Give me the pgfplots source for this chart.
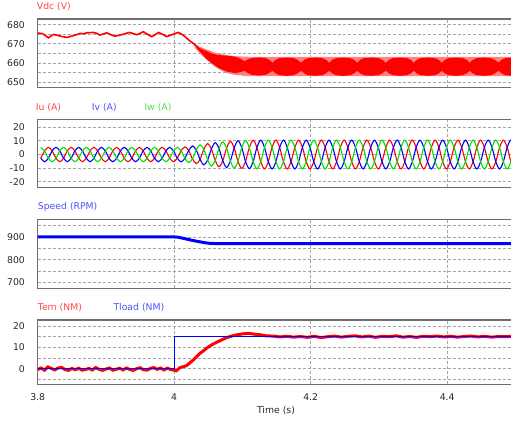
\documentclass[border=0pt]{standalone}
\usepackage{fontspec}
\setmainfont{DejaVu Sans}
\usepackage{pgfplots}
\usepackage{pgfplotstable}
\pgfplotsset{compat=1.18}

\definecolor{gridc}{RGB}{165,165,165}
\definecolor{framec}{RGB}{110,110,110}
\definecolor{pr}{RGB}{255,0,0}
\definecolor{pb}{RGB}{0,0,255}
\definecolor{pg}{RGB}{0,225,0}
\definecolor{pinkc}{RGB}{255,130,130}
\definecolor{lr}{RGB}{255,70,70}
\definecolor{lb}{RGB}{80,80,255}
\definecolor{lg}{RGB}{80,220,80}
\definecolor{tk}{RGB}{40,40,40}

\pgfplotsset{panel/.style={scale only axis, width=477.75bp, xmin=3.8, xmax=4.5,
  xtick={3.8,4,4.2,4.4}, xticklabels={}, major tick length=0pt, minor tick length=0pt,
  grid=both, major grid style={draw=gridc, line width=0.9bp, dash pattern=on 3bp off 2bp},
  minor grid style={draw=gridc, line width=0.9bp, dash pattern=on 3bp off 2bp},
  axis line style={draw=framec, line width=1.3bp}, tick label style={text=tk},
  yticklabel style={xshift=-9.5bp}, /pgf/number format/assume math mode=true,
  anchor=north west}}

\pgfplotstableread{
t v
3.800 675.6
3.806 675.5
3.811 674.5
3.8156 673.2
3.820 674.3
3.823 674.9
3.828 674.6
3.834 674.0
3.8425 673.4
3.848 673.9
3.853 674.4
3.858 675.0
3.862 675.5
3.867 675.3
3.872 675.8
3.8815 676.0
3.886 675.6
3.891 674.6
3.896 675.2
3.901 675.8
3.906 675.0
3.9133 674.0
3.918 674.4
3.925 675.0
3.930 675.6
3.935 676.0
3.940 675.4
3.945 674.8
3.950 675.5
3.9547 676.4
3.960 675.2
3.967 673.8
3.972 674.8
3.977 676.0
3.983 675.0
3.989 673.8
3.995 674.6
4.000 675.3
4.006 676.0
4.010 675.3
4.016 673.8
4.022 671.8
4.028 670.3
4.035 668.2
}\vdcline

\pgfplotstableread{
t v
4.030 669.5
4.045 667.5
4.060 665.5
4.075 664.3
4.090 663.6
4.110 663.3
4.520 663.3
4.520 653.2
4.110 653.2
4.090 653.8
4.075 655.0
4.060 658.0
4.045 662.5
4.030 668.0
}\vdcpink

\pgfplotstableread{
t v
4.033 668.8
4.040 667.4
4.047 666.3
4.055 665.0
4.065 664.2
4.077 663.9
4.090 663.3
4.097 662.3
4.103 661.0
4.108 662.0
4.113 662.6
4.124 663.0
4.134 662.6
4.139 661.8
4.144 660.2
4.149 661.8
4.1543 662.6
4.1647 662.9
4.175 662.6
4.1803 661.8
4.186 660.2
4.191 661.8
4.1963 662.6
4.2067 662.9
4.217 662.6
4.2223 661.8
4.227 660.2
4.232 661.8
4.2373 662.6
4.2477 662.9
4.258 662.6
4.2633 661.8
4.268 660.2
4.273 661.8
4.2783 662.6
4.2887 662.9
4.299 662.6
4.3043 661.8
4.310 660.2
4.315 661.8
4.3203 662.6
4.3307 662.9
4.341 662.6
4.3463 661.8
4.351 660.2
4.356 661.8
4.3613 662.6
4.3717 662.9
4.382 662.6
4.3873 661.8
4.392 660.2
4.397 661.8
4.4023 662.6
4.4127 662.9
4.423 662.6
4.4283 661.8
4.433 660.2
4.438 661.8
4.4433 662.6
4.4537 662.9
4.464 662.6
4.4693 661.8
4.475 660.2
4.480 661.8
4.4853 662.6
4.4957 662.9
4.506 662.6
4.5113 661.8
4.516 660.2
4.516 656.0
4.5113 654.6
4.506 653.7
4.4957 653.4
4.4853 653.7
4.480 654.6
4.475 656.0
4.4693 654.6
4.464 653.7
4.4537 653.4
4.4433 653.7
4.438 654.6
4.433 656.0
4.4283 654.6
4.423 653.7
4.4127 653.4
4.4023 653.7
4.397 654.6
4.392 656.0
4.3873 654.6
4.382 653.7
4.3717 653.4
4.3613 653.7
4.356 654.6
4.351 656.0
4.3463 654.6
4.341 653.7
4.3307 653.4
4.3203 653.7
4.315 654.6
4.310 656.0
4.3043 654.6
4.299 653.7
4.2887 653.4
4.2783 653.7
4.273 654.6
4.268 656.0
4.2633 654.6
4.258 653.7
4.2477 653.4
4.2373 653.7
4.232 654.6
4.227 656.0
4.2223 654.6
4.217 653.7
4.2067 653.4
4.1963 653.7
4.191 654.6
4.186 656.0
4.1803 654.6
4.175 653.7
4.1647 653.4
4.1543 653.7
4.149 654.6
4.144 656.0
4.139 654.8
4.134 654.0
4.124 653.5
4.113 654.0
4.108 654.8
4.103 656.0
4.097 655.3
4.090 654.8
4.077 655.6
4.065 657.5
4.055 660.0
4.047 662.3
4.040 665.0
4.033 667.8
}\vdcband

\pgfplotstableread{
t iu iv iw
3.8045 -2.65 -2.65 5.3
3.8101 2.65 -5.3 2.65
3.8157 5.3 -2.65 -2.65
3.8212 2.65 2.65 -5.3
3.8268 -2.65 5.3 -2.65
3.8323 -5.3 2.65 2.65
3.8379 -2.65 -2.65 5.3
3.8434 2.65 -5.3 2.65
3.8490 5.3 -2.65 -2.65
3.8545 2.65 2.65 -5.3
3.8601 -2.65 5.3 -2.65
3.8656 -5.3 2.65 2.65
3.8712 -2.65 -2.65 5.3
3.8768 2.65 -5.3 2.65
3.8823 5.3 -2.65 -2.65
3.8879 2.65 2.65 -5.3
3.8934 -2.65 5.3 -2.65
3.8990 -5.3 2.65 2.65
3.9045 -2.65 -2.65 5.3
3.9101 2.65 -5.3 2.65
3.9157 5.3 -2.65 -2.65
3.9212 2.65 2.65 -5.3
3.9268 -2.65 5.3 -2.65
3.9323 -5.3 2.65 2.65
3.9379 -2.65 -2.65 5.3
3.9434 2.65 -5.3 2.65
3.9490 5.3 -2.65 -2.65
3.9545 2.65 2.65 -5.3
3.9601 -2.65 5.3 -2.65
3.9656 -5.3 2.65 2.65
3.9712 -2.65 -2.65 5.3
3.9768 2.65 -5.3 2.65
3.9823 5.3 -2.65 -2.65
3.9879 2.65 2.65 -5.3
3.9934 -2.65 5.3 -2.65
3.9990 -5.3 2.65 2.65
4.0045 -2.65 -2.65 5.3
4.0101 2.7 -5.4 2.7
4.0157 5.6 -2.8 -2.8
4.0212 2.95 2.95 -5.9
4.0268 -3.15 6.3 -3.15
4.0323 -6.7 3.35 3.35
4.0379 -3.55 -3.55 7.1
4.0434 3.8 -7.6 3.8
4.0490 8.0 -4.0 -4.0
4.0545 4.2 4.2 -8.4
4.0601 -4.35 8.7 -4.35
4.0656 -9.0 4.5 4.5
4.0712 -4.65 -4.65 9.3
4.0768 4.75 -9.5 4.75
4.0823 9.7 -4.85 -4.85
4.0879 4.95 4.95 -9.9
4.0934 -5.05 10.1 -5.05
4.0990 -10.2 5.1 5.1
4.1045 -5.15 -5.15 10.3
4.1101 5.2 -10.4 5.2
4.1157 10.5 -5.25 -5.25
4.1212 5.25 5.25 -10.5
4.1268 -5.3 10.6 -5.3
4.1323 -10.6 5.3 5.3
4.1379 -5.3 -5.3 10.6
4.1434 5.3 -10.6 5.3
4.1490 10.6 -5.3 -5.3
4.1545 5.3 5.3 -10.6
4.1601 -5.3 10.6 -5.3
4.1656 -10.6 5.3 5.3
4.1712 -5.3 -5.3 10.6
4.1768 5.3 -10.6 5.3
4.1823 10.6 -5.3 -5.3
4.1879 5.3 5.3 -10.6
4.1934 -5.3 10.6 -5.3
4.1990 -10.6 5.3 5.3
4.2045 -5.3 -5.3 10.6
4.2101 5.3 -10.6 5.3
4.2157 10.6 -5.3 -5.3
4.2212 5.3 5.3 -10.6
4.2268 -5.3 10.6 -5.3
4.2323 -10.6 5.3 5.3
4.2379 -5.3 -5.3 10.6
4.2434 5.3 -10.6 5.3
4.2490 10.6 -5.3 -5.3
4.2545 5.3 5.3 -10.6
4.2601 -5.3 10.6 -5.3
4.2656 -10.6 5.3 5.3
4.2712 -5.3 -5.3 10.6
4.2768 5.3 -10.6 5.3
4.2823 10.6 -5.3 -5.3
4.2879 5.3 5.3 -10.6
4.2934 -5.3 10.6 -5.3
4.2990 -10.6 5.3 5.3
4.3045 -5.3 -5.3 10.6
4.3101 5.3 -10.6 5.3
4.3157 10.6 -5.3 -5.3
4.3212 5.3 5.3 -10.6
4.3268 -5.3 10.6 -5.3
4.3323 -10.6 5.3 5.3
4.3379 -5.3 -5.3 10.6
4.3434 5.3 -10.6 5.3
4.3490 10.6 -5.3 -5.3
4.3545 5.3 5.3 -10.6
4.3601 -5.3 10.6 -5.3
4.3656 -10.6 5.3 5.3
4.3712 -5.3 -5.3 10.6
4.3768 5.3 -10.6 5.3
4.3823 10.6 -5.3 -5.3
4.3879 5.3 5.3 -10.6
4.3934 -5.3 10.6 -5.3
4.3990 -10.6 5.3 5.3
4.4045 -5.3 -5.3 10.6
4.4101 5.3 -10.6 5.3
4.4157 10.6 -5.3 -5.3
4.4212 5.3 5.3 -10.6
4.4268 -5.3 10.6 -5.3
4.4323 -10.6 5.3 5.3
4.4379 -5.3 -5.3 10.6
4.4434 5.3 -10.6 5.3
4.4490 10.6 -5.3 -5.3
4.4545 5.3 5.3 -10.6
4.4601 -5.3 10.6 -5.3
4.4656 -10.6 5.3 5.3
4.4712 -5.3 -5.3 10.6
4.4768 5.3 -10.6 5.3
4.4823 10.6 -5.3 -5.3
4.4879 5.3 5.3 -10.6
4.4934 -5.3 10.6 -5.3
4.4990 -10.6 5.3 5.3
4.5045 -5.3 -5.3 10.6
4.5101 5.3 -10.6 5.3
}\currents

\pgfplotstableread{
t n
3.800 900
4.000 900
4.005 899.5
4.018 891
4.028 884
4.038 878.5
4.045 874.5
4.052 872
4.060 871
4.500 871
}\speed

\pgfplotstableread{
t tem
3.800 -0.3
3.805 0.4
3.810 -0.6
3.815 0.9
3.820 0.2
3.825 -0.5
3.830 0.4
3.835 0.7
3.840 -0.3
3.845 -0.7
3.850 0.2
3.855 -0.4
3.860 0.3
3.865 -0.6
3.870 -0.3
3.875 0.2
3.880 -0.5
3.885 0.6
3.890 -0.2
3.895 -0.7
3.900 -0.1
3.905 0.4
3.910 -0.6
3.915 -0.2
3.920 0.3
3.925 -0.5
3.930 0.4
3.935 -0.3
3.940 -0.7
3.945 0.1
3.950 0.5
3.955 -0.4
3.960 -0.6
3.965 0.2
3.970 0.6
3.975 -0.2
3.980 0.4
3.985 -0.5
3.990 0.3
3.995 -0.3
4.000 -0.6
4.003 -0.9
4.0085 0.6
4.013 1.0
4.018 1.5
4.023 2.8
4.028 4.2
4.033 5.8
4.038 7.3
4.043 8.5
4.0476 9.7
4.052 10.6
4.057 11.6
4.062 12.4
4.067 13.1
4.072 13.9
4.077 14.6
4.085 15.4
4.092 15.9
4.100 16.3
4.109 16.6
4.117 16.2
4.126 15.9
4.135 15.4
4.145 15.3
4.155 14.9
4.165 15.2
4.175 14.8
4.185 15.1
4.195 14.7
4.205 15.2
4.215 14.6
4.225 15.0
4.235 15.3
4.245 14.8
4.255 15.2
4.265 15.4
4.275 14.9
4.285 15.3
4.295 14.7
4.305 15.2
4.315 15.0
4.325 15.4
4.335 14.8
4.345 15.1
4.355 14.7
4.365 15.2
4.375 15.0
4.385 15.3
4.395 14.9
4.405 15.2
4.415 14.8
4.425 15.1
4.435 15.3
4.445 14.9
4.455 15.2
4.465 14.8
4.475 15.1
4.485 15.0
4.495 15.2
4.505 15.0
}\tem

\begin{document}
\fontsize{9.3bp}{11bp}\selectfont
\begin{tikzpicture}
\path[use as bounding box, clip] (0,0) rectangle (511bp,-422bp);

% Panel 1: Vdc
\begin{axis}[panel, at={(37.7bp,-19bp)}, height=68.7bp, ymin=647.2, ymax=683,
  ytick={650,660,670,680}, minor ytick={655,665,675}]
\addplot[fill=pinkc, draw=none] table[x=t,y=v]{\vdcpink};
\addplot[fill=pr, draw=none] table[x=t,y=v]{\vdcband};
\addplot[pr, line width=1.6bp] table[x=t,y=v]{\vdcline};
\end{axis}

% Panel 2: currents
\begin{axis}[panel, at={(37.7bp,-119.3bp)}, height=68bp, ymin=-24.1, ymax=25.9,
  ytick={-20,-10,0,10,20}]
\addplot[pr, line width=1.1bp, smooth] table[x=t,y=iu]{\currents};
\addplot[pb, line width=1.1bp, smooth] table[x=t,y=iv]{\currents};
\addplot[pg, line width=1.1bp, smooth] table[x=t,y=iw]{\currents};
\end{axis}

% Panel 3: speed
\begin{axis}[panel, at={(37.7bp,-219.3bp)}, height=69bp, ymin=673.5, ymax=978,
  ytick={700,800,900}, minor ytick={750,850,950}]
\addplot[pb, line width=3bp] table[x=t,y=n]{\speed};
\end{axis}

% Panel 4: torque
\begin{axis}[panel, at={(37.7bp,-320bp)}, height=64.3bp, ymin=-7.2, ymax=22.8,
  ytick={0,10,20}, minor ytick={-5,5,15},
  xticklabels={3.8,4,4.2,4.4}, xticklabel style={yshift=-6bp}]
\addplot[pr, line width=3bp] table[x=t,y=tem]{\tem};
\addplot[pb, line width=0.8bp] coordinates {(3.8,0) (4.0,0) (4.0,15) (4.5,15)};
\end{axis}

\node[anchor=west, inner sep=0pt, text=lr] at (36.7bp,-6.7bp) {Vdc (V)};
\node[anchor=west, inner sep=0pt, text=lr] at (35.7bp,-107.3bp) {Iu (A)};
\node[anchor=west, inner sep=0pt, text=lb] at (91.7bp,-107.3bp) {Iv (A)};
\node[anchor=west, inner sep=0pt, text=lg] at (144.3bp,-107.3bp) {Iw (A)};
\node[anchor=west, inner sep=0pt, text=lb] at (37.7bp,-207.3bp) {Speed (RPM)};
\node[anchor=west, inner sep=0pt, text=lr] at (37.7bp,-307.7bp) {Tem (NM)};
\node[anchor=west, inner sep=0pt, text=lb] at (113.3bp,-307.7bp) {Tload (NM)};
\node[anchor=center, inner sep=0pt, text=tk] at (276bp,-411bp) {Time (s)};
\end{tikzpicture}
\end{document}
